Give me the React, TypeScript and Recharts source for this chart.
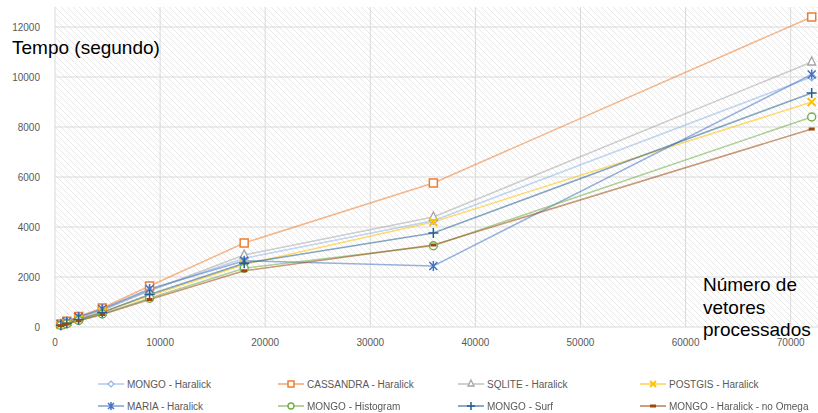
import React from 'react';
import { LineChart, Line, XAxis, YAxis, CartesianGrid } from 'recharts';

const xValues = [563, 1125, 2250, 4500, 9000, 18000, 36000, 72000];

const mongoHaralick = [90, 180, 340, 660, 1470, 2750, 4250, 10000];
const cassandraHaralick = [120, 230, 420, 760, 1640, 3360, 5760, 12400];
const sqliteHaralick = [100, 200, 380, 700, 1450, 2880, 4400, 10600];
const postgisHaralick = [80, 160, 310, 600, 1250, 2500, 4200, 9000];
const mariaHaralick = [110, 210, 400, 720, 1520, 2650, 2440, 10100];
const mongoHistogram = [60, 130, 260, 520, 1150, 2350, 3250, 8400];
const mongoSurf = [70, 150, 300, 580, 1300, 2550, 3760, 9360];
const mongoNoOmega = [50, 120, 250, 500, 1100, 2250, 3280, 7920];

const xTicks = [0, 10000, 20000, 30000, 40000, 50000, 60000, 70000];
const yTicks = [0, 2000, 4000, 6000, 8000, 10000, 12000];

type Shape = 'diamond' | 'square' | 'triangle' | 'x' | 'star' | 'circle' | 'plus' | 'dash';

const series: { key: string; name: string; values: number[]; color: string; shape: Shape }[] = [
  { key: 'mongoHaralick', name: 'MONGO - Haralick', values: mongoHaralick, color: '#8fb4e3', shape: 'diamond' },
  { key: 'cassandra', name: 'CASSANDRA - Haralick', values: cassandraHaralick, color: '#ed7d31', shape: 'square' },
  { key: 'sqlite', name: 'SQLITE - Haralick', values: sqliteHaralick, color: '#a5a5a5', shape: 'triangle' },
  { key: 'postgis', name: 'POSTGIS - Haralick', values: postgisHaralick, color: '#ffc000', shape: 'x' },
  { key: 'maria', name: 'MARIA - Haralick', values: mariaHaralick, color: '#4472c4', shape: 'star' },
  { key: 'histogram', name: 'MONGO - Histogram', values: mongoHistogram, color: '#70ad47', shape: 'circle' },
  { key: 'surf', name: 'MONGO - Surf', values: mongoSurf, color: '#255e91', shape: 'plus' },
  { key: 'noOmega', name: 'MONGO - Haralick - no Omega', values: mongoNoOmega, color: '#9e480e', shape: 'dash' },
];

const data = xValues.map((x, i) => {
  const row: any = { x };
  series.forEach((s) => (row[s.key] = s.values[i]));
  return row;
});

const Marker = ({ cx, cy, shape, color, r = 4 }: { cx: number; cy: number; shape: Shape; color: string; r?: number }) => {
  switch (shape) {
    case 'diamond':
      return <path d={`M${cx},${cy - r} L${cx + r},${cy} L${cx},${cy + r} L${cx - r},${cy} Z`} fill="#fff" stroke={color} strokeWidth={1.2} />;
    case 'square':
      return <rect x={cx - r} y={cy - r} width={r * 2} height={r * 2} fill="#fff" stroke={color} strokeWidth={1.5} />;
    case 'triangle':
      return <path d={`M${cx},${cy - r - 1} L${cx + r},${cy + r - 1} L${cx - r},${cy + r - 1} Z`} fill="#fff" stroke={color} strokeWidth={1.3} />;
    case 'x':
      return <path d={`M${cx - r},${cy - r} L${cx + r},${cy + r} M${cx - r},${cy + r} L${cx + r},${cy - r}`} stroke={color} strokeWidth={1.8} />;
    case 'star':
      return (
        <path
          d={`M${cx - r},${cy - r} L${cx + r},${cy + r} M${cx - r},${cy + r} L${cx + r},${cy - r} M${cx},${cy - r - 1} L${cx},${cy + r + 1}`}
          stroke={color}
          strokeWidth={1.5}
        />
      );
    case 'circle':
      return <circle cx={cx} cy={cy} r={r} fill="#fff" stroke={color} strokeWidth={1.4} />;
    case 'plus':
      return <path d={`M${cx - r - 1},${cy} L${cx + r + 1},${cy} M${cx},${cy - r - 1} L${cx},${cy + r + 1}`} stroke={color} strokeWidth={1.5} />;
    case 'dash':
      return <rect x={cx - 3} y={cy - 1.5} width={6} height={3} fill={color} />;
  }
  return null;
};

const makeDot = (shape: Shape, color: string) => (p: any) => (
  <Marker key={`${shape}-${p.index}`} cx={p.cx} cy={p.cy} shape={shape} color={color} />
);

const legendCols = [98, 278, 458, 640];
const legendRows = [384, 406];

const App: React.FC = () => {
  return (
    <div style={{ position: 'fixed', left: 0, top: 0, width: 818, height: 413, background: '#fff', fontFamily: '"Liberation Sans", Arial, sans-serif' }}>
      <svg width={0} height={0} style={{ position: 'absolute' }}>
        <defs>
          <pattern id="hatch" width={6} height={6} patternUnits="userSpaceOnUse">
            <rect width={6} height={6} fill="#fff" />
            <path d="M0,0 L6,6 M-1,5 L1,7 M5,-1 L7,1" stroke="#e2e2e2" strokeWidth={0.8} />
          </pattern>
        </defs>
      </svg>
      <LineChart width={818} height={413} data={data} margin={{ top: 7, right: 0, left: 0, bottom: 56 }}>
        <CartesianGrid stroke="#d9d9d9" fill="url(#hatch)" horizontalValues={yTicks} verticalValues={xTicks} />
        <XAxis
          type="number"
          dataKey="x"
          domain={[0, 72600]}
          ticks={xTicks}
          axisLine={false}
          tickLine={false}
          tickMargin={6}
          height={30}
          interval={0}
          tick={{ fontSize: 10, fill: '#595959' }}
        />
        <YAxis
          type="number"
          domain={[0, 12800]}
          ticks={yTicks}
          axisLine={false}
          tickLine={false}
          width={55}
          tickMargin={9}
          interval={0}
          tick={{ fontSize: 10, fill: '#595959' }}
        />
        {series.map((s) => (
          <Line
            key={s.key}
            dataKey={s.key}
            name={s.name}
            stroke={s.color}
            strokeOpacity={0.55}
            strokeWidth={1.5}
            dot={makeDot(s.shape, s.color)}
            activeDot={false}
            isAnimationActive={false}
          />
        ))}
      </LineChart>
      <div style={{ position: 'absolute', left: 12, top: 37, fontSize: 19, color: '#000', whiteSpace: 'nowrap' }}>Tempo (segundo)</div>
      <div style={{ position: 'absolute', left: 703, top: 274, fontSize: 19, lineHeight: '22.5px', color: '#000', whiteSpace: 'nowrap' }}>
        Número de
        <br />
        vetores
        <br />
        processados
      </div>
      {series.map((s, i) => {
        const left = legendCols[i % 4];
        const top = legendRows[Math.floor(i / 4)];
        return (
          <div key={s.key} style={{ position: 'absolute', left, top: top - 8, height: 16, display: 'flex', alignItems: 'center', whiteSpace: 'nowrap' }}>
            <svg width={26} height={16}>
              <line x1={0} y1={8} x2={26} y2={8} stroke={s.color} strokeOpacity={0.7} strokeWidth={1.5} />
              <Marker cx={13} cy={8} shape={s.shape} color={s.color} r={3} />
            </svg>
            <span style={{ marginLeft: 3, fontSize: 10, color: '#595959' }}>{s.name}</span>
          </div>
        );
      })}
    </div>
  );
};

export default App;
